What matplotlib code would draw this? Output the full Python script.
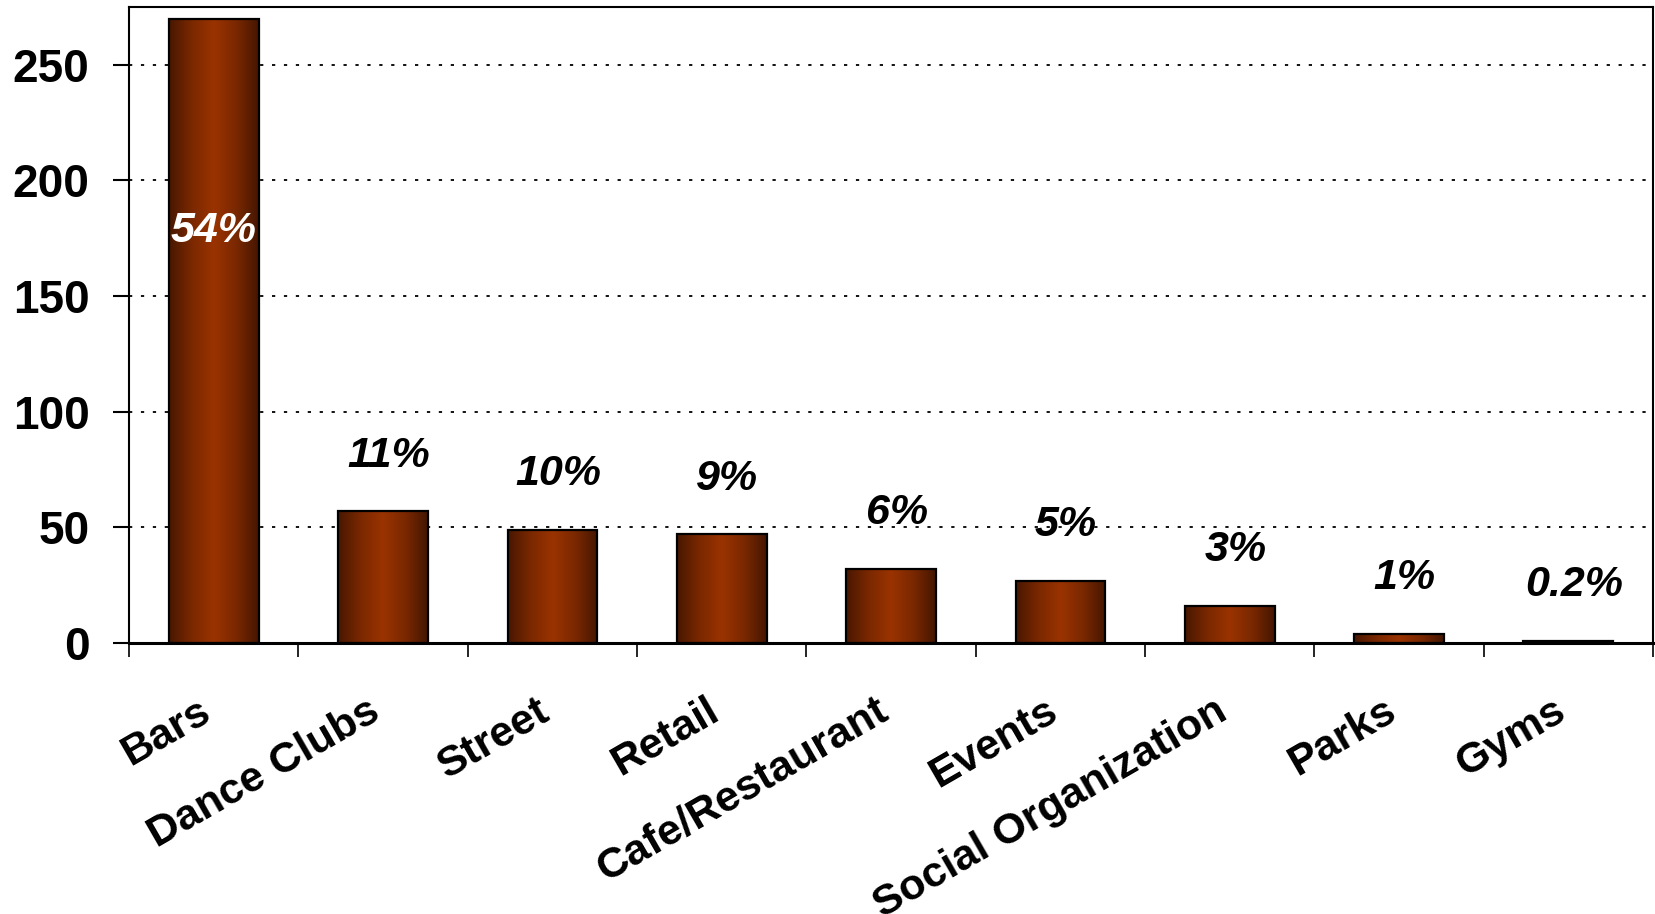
import matplotlib
matplotlib.use('Agg')
import matplotlib.pyplot as plt
import matplotlib.transforms as mtransforms
import numpy as np
from matplotlib.colors import LinearSegmentedColormap

# Venue counts
categories = ['Bars', 'Dance Clubs', 'Street', 'Retail', 'Cafe/Restaurant',
              'Events', 'Social Organization', 'Parks', 'Gyms']
counts = [270, 57, 49, 47, 32, 27, 16, 4, 1]
y_ticks = [0, 50, 100, 150, 200, 250]

plt.rcParams['font.family'] = ['Liberation Sans', 'DejaVu Sans']
plt.rcParams['font.weight'] = 'bold'

fig = plt.figure(figsize=(16.55, 9.14), dpi=100)
ax = fig.add_axes([0.078, 0.2965, 0.9208, 0.6958])

x = np.arange(len(categories))
bar_w = 0.53

# brown shading, dark at the edges and lighter in the middle
cmap = LinearSegmentedColormap.from_list('brown', ['#481700', '#7a2800', '#9a3300', '#7a2800', '#441600'])
grad = np.linspace(0, 1, 256).reshape(1, -1)

bars = ax.bar(x, counts, width=bar_w, facecolor='none', edgecolor='black',
              linewidth=1.6, zorder=3)
for b in bars:
    x0, h = b.get_x(), b.get_height()
    im = ax.imshow(grad, cmap=cmap, aspect='auto', zorder=2.5,
                   extent=(x0, x0 + bar_w, 0, h), interpolation='bicubic')
    im.set_clip_path(b)
ax.set_xlim(-0.5, len(categories) - 0.5)
ax.set_ylim(0, 275)

# dotted horizontal grid
ax.set_yticks(y_ticks)
ax.yaxis.grid(True, linestyle=(0, (1.8, 4.8)), color='black', linewidth=1.3)
ax.set_axisbelow(True)
ax.tick_params(axis='y', direction='out', length=11.5, width=1.5, labelsize=33, pad=17)

# category boundaries as ticks
ax.set_xticks(np.arange(len(categories) + 1) - 0.5)
ax.set_xticklabels([])
ax.tick_params(axis='x', which='major', direction='out', length=10, width=1.2)

# slanted category names under each bar
shift = mtransforms.ScaledTranslation(-16 / 100, -48 / 100, fig.dpi_scale_trans)
name_tr = ax.get_xaxis_transform() + shift
for i, name in enumerate(categories):
    ax.text(i, 0, name, transform=name_tr, rotation=30, ha='right', va='top',
            rotation_mode='anchor', fontsize=31, fontweight='bold', clip_on=False)

for sp in ax.spines.values():
    sp.set_linewidth(1.5)
ax.spines['bottom'].set_linewidth(2.2)

# share labels
total = sum(counts)
for i, c in enumerate(counts):
    p = c / total * 100
    txt = f'{p:.0f}%' if p >= 0.5 else f'{p:.1f}%'
    if i == 0:
        ax.text(i, c * 0.66, txt, ha='center', va='center', color='white',
                fontsize=31, fontstyle='italic', fontweight='bold', zorder=4)
    else:
        ax.annotate(txt, xy=(i, c), xytext=(4, 40), textcoords='offset points',
                    ha='center', va='center', color='black', fontsize=31,
                    fontstyle='italic', fontweight='bold', zorder=4)

fig.savefig('out.png', dpi=100)
